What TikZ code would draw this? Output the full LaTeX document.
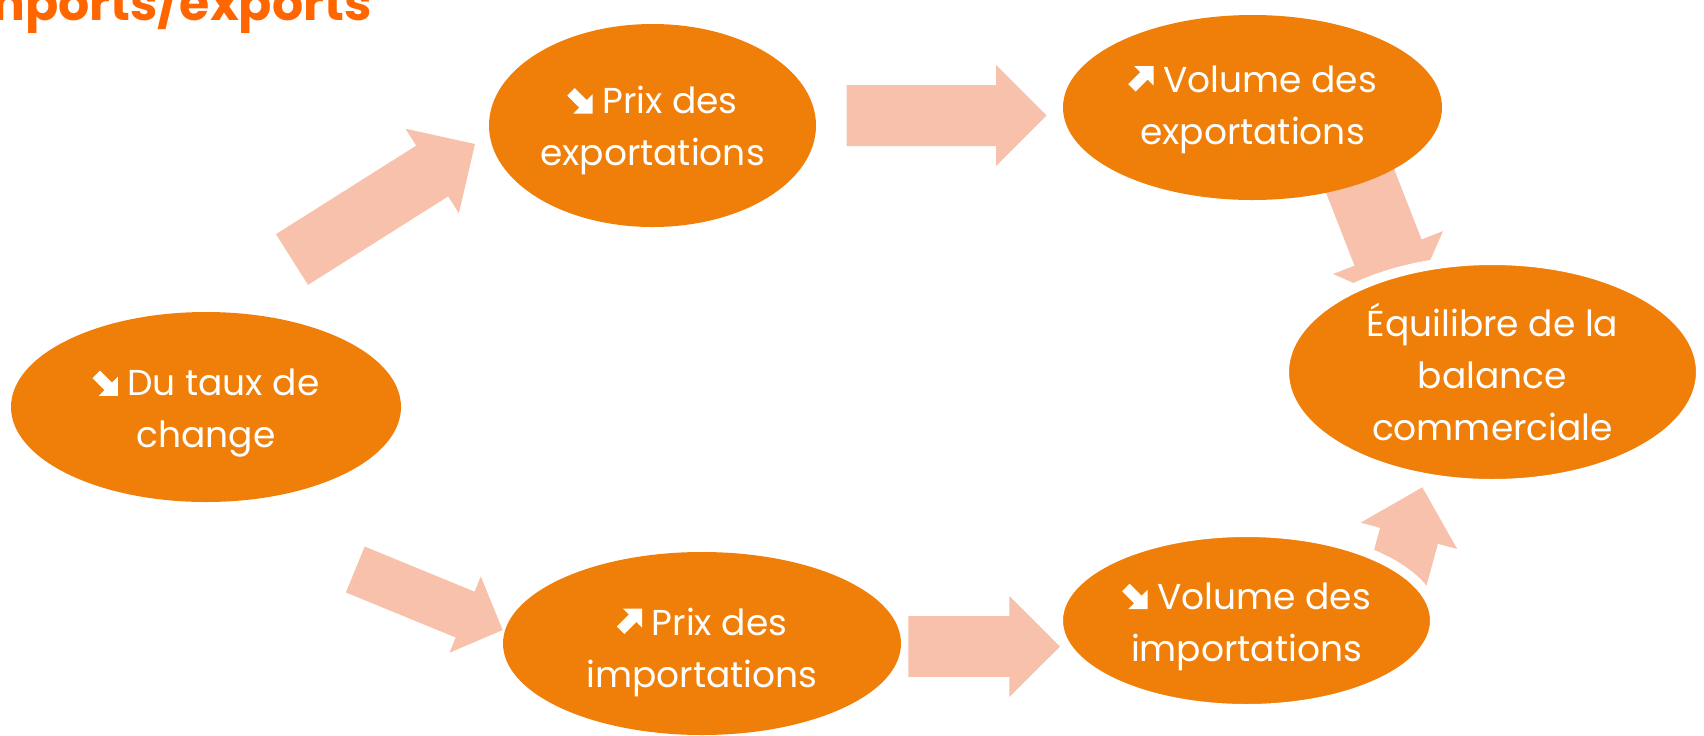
\documentclass[tikz,border=0pt]{standalone}
\usepackage{fontspec}
\setmainfont{Poppins}
\usetikzlibrary{calc,shapes.geometric}

\definecolor{ovalfill}{HTML}{F07F09}
\definecolor{arrowfill}{HTML}{F7C1AB}
\definecolor{titleorange}{HTML}{FF6600}

% small bold arrows used inside the labels
\newcommand\flecheBas{\tikz[x=1.2pt,y=1.2pt,baseline=0pt]\fill[white] (11,0) -- (11,8) -- (8.56,5.56) -- (3.56,10.56) -- (0.44,7.44) -- (5.44,2.44) -- (3,0) -- cycle;}
\newcommand\flecheHaut{\tikz[x=1.2pt,y=1.2pt,baseline=0pt]\fill[white] (11,11) -- (11,3) -- (8.56,5.44) -- (3.56,0.44) -- (0.44,3.56) -- (5.44,8.56) -- (3,11) -- cycle;}

% block arrow: #1 name, #2 tail, #3 tip, #4 half shaft, #5 half head, #6 head length
\newcommand\blockarrow[6]{%
  \coordinate (#1-neck) at ($(#3)!#6!(#2)$);
  \fill[arrowfill] ($(#2)!#4!90:(#3)$) -- ($(#1-neck)!#4!-90:(#2)$)
    -- ($(#1-neck)!#5!-90:(#2)$) -- (#3) -- ($(#1-neck)!#5!90:(#2)$)
    -- ($(#1-neck)!#4!90:(#2)$) -- ($(#2)!#4!-90:(#3)$) -- cycle;}

\tikzset{
  oval/.style={ellipse, fill=ovalfill, inner sep=0pt},
  ringed/.style={draw=white, line width=5pt},
  ovaltext/.style={inner sep=0pt, text=white, align=center,
    font=\fontsize{18}{26}\selectfont},
}

\begin{document}
\begin{tikzpicture}[x=0.5pt, y=-0.5pt]
\useasboundingbox (0,0) rectangle (1704,735);
\clip (0,0) rectangle (1704,735);

% title
\node[anchor=base east, inner sep=0pt, text=titleorange,
  font=\fontsize{24.5}{30}\selectfont\bfseries] (title) at (372,20) {Imports/exports};

% arrow end points
\coordinate (a1t) at (292,259.5);   \coordinate (a1h) at (475,144);
\coordinate (a2t) at (846.7,115.5); \coordinate (a2h) at (1046.7,115.5);
\coordinate (a3t) at (1340.7,131.3); \coordinate (a3h) at (1409.5,307.5);
\coordinate (a4t) at (355.3,569.5); \coordinate (a4h) at (502.7,630);
\coordinate (a5t) at (908.3,646.5); \coordinate (a5h) at (1060,646.5);
\coordinate (a6t) at (1382.6,632.2); \coordinate (a6h) at (1422.3,487.3);

\blockarrow{a1}{a1t}{a1h}{15pt}{25pt}{25.3pt}
\blockarrow{a2}{a2t}{a2h}{15.25pt}{25.25pt}{25.35pt}
\blockarrow{a3}{a3t}{a3h}{18pt}{29.5pt}{29.5pt}
\blockarrow{a4}{a4t}{a4h}{12.4pt}{20.6pt}{20.3pt}
\blockarrow{a5}{a5t}{a5h}{15.2pt}{25.3pt}{25.35pt}
\blockarrow{a6}{a6t}{a6h}{15pt}{25pt}{25.15pt}

% ovals
\node[oval, minimum width=195pt, minimum height=95pt] (taux) at (206,407) {};
\node[oval, minimum width=163.5pt, minimum height=101.5pt] (prixexp) at (652.5,125.5) {};
\node[oval, minimum width=189.5pt, minimum height=92.5pt] (volexp) at (1252.5,107.5) {};
\node[oval, ringed, minimum width=208.5pt, minimum height=112pt] (equilibre) at (1492.5,372) {};
\node[oval, minimum width=199pt, minimum height=91.5pt] (priximp) at (702,643.5) {};
\node[oval, ringed, minimum width=188.5pt, minimum height=88.5pt] (volimp) at (1246.5,620.5) {};

% labels
\node[ovaltext] (taux-t) at ($(taux)+(0,6.5)$) {\flecheBas{} Du taux de\\change};
\node[ovaltext] (prixexp-t) at ($(prixexp)+(0,5)$) {\flecheBas{} Prix des\\exportations};
\node[ovaltext] (volexp-t) at ($(volexp)+(0,2.5)$) {\flecheHaut{} Volume des\\exportations};
\node[ovaltext] (equilibre-t) at (equilibre) {Équilibre de la\\balance\\commerciale};
\node[ovaltext] (priximp-t) at ($(priximp)+(0,8.5)$) {\flecheHaut{} Prix des\\importations};
\node[ovaltext] (volimp-t) at ($(volimp)+(0,6)$) {\flecheBas{} Volume des\\importations};
\end{tikzpicture}
\end{document}
